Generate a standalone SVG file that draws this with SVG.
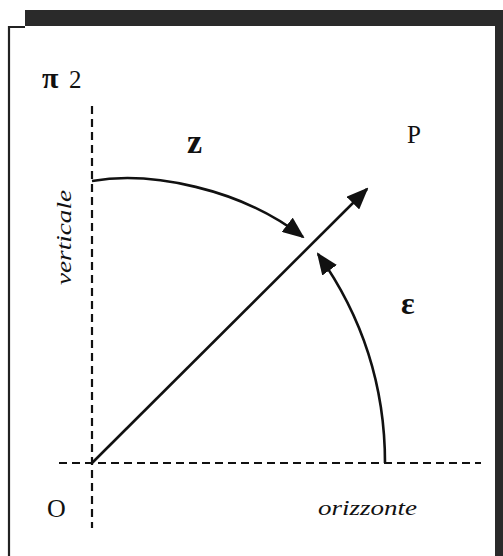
<svg xmlns="http://www.w3.org/2000/svg" width="503" height="556" viewBox="0 0 503 556">
<style>
.ser{font-family:"Liberation Serif","Times New Roman",serif;fill:#111}
.it{font-style:italic}
.dash{stroke:#111;stroke-width:2.2;stroke-dasharray:8 5;fill:none}
.sol{stroke:#111;stroke-width:2.6;fill:none}
</style>
<defs>
<marker id="ah" markerWidth="22" markerHeight="18" refX="20" refY="9" orient="auto" markerUnits="userSpaceOnUse">
<path d="M0,0 L22,9 L0,18 Z" fill="#111"/>
</marker>
</defs>
<rect width="503" height="556" fill="#fff"/>
<g id="frame">
<rect x="25" y="10" width="478" height="16" fill="#2a2a2a"/>
<rect x="495" y="10" width="8" height="546" fill="#2a2a2a"/>
<polyline points="25,27 9,27 9,556" fill="none" stroke="#222" stroke-width="2.2"/>
</g>
<g id="axes">
<line class="dash" x1="92" y1="106" x2="92" y2="528"/>
<line class="dash" x1="59" y1="463" x2="481" y2="463"/>
</g>
<g id="connectors">
<line id="vecP" class="sol" x1="92" y1="463" x2="367" y2="189" marker-end="url(#ah)"/>
<path id="arcZ" class="sol" d="M92,181 C150,171 240,188 303,237" marker-end="url(#ah)"/>
<path id="arcE" class="sol" d="M385,463 C385,390 365,320 318,254" marker-end="url(#ah)"/>
</g>
<g id="labels">
<text class="ser" y="88"><tspan x="42" font-size="30" font-weight="bold">π</tspan><tspan x="69" font-size="25">2</tspan></text>
<text class="ser" x="187" y="153" font-size="34" font-weight="bold">z</text>
<text class="ser" x="407" y="143" font-size="25">P</text>
<text class="ser" x="401" y="314" font-size="32" font-weight="bold">ε</text>
<text class="ser it" transform="translate(71,285) rotate(-90)" font-size="21" textLength="95" lengthAdjust="spacingAndGlyphs">verticale</text>
<text class="ser" x="47" y="517" font-size="26">O</text>
<text class="ser it" x="318" y="515" font-size="21" textLength="99" lengthAdjust="spacingAndGlyphs">orizzonte</text>
</g>
</svg>
